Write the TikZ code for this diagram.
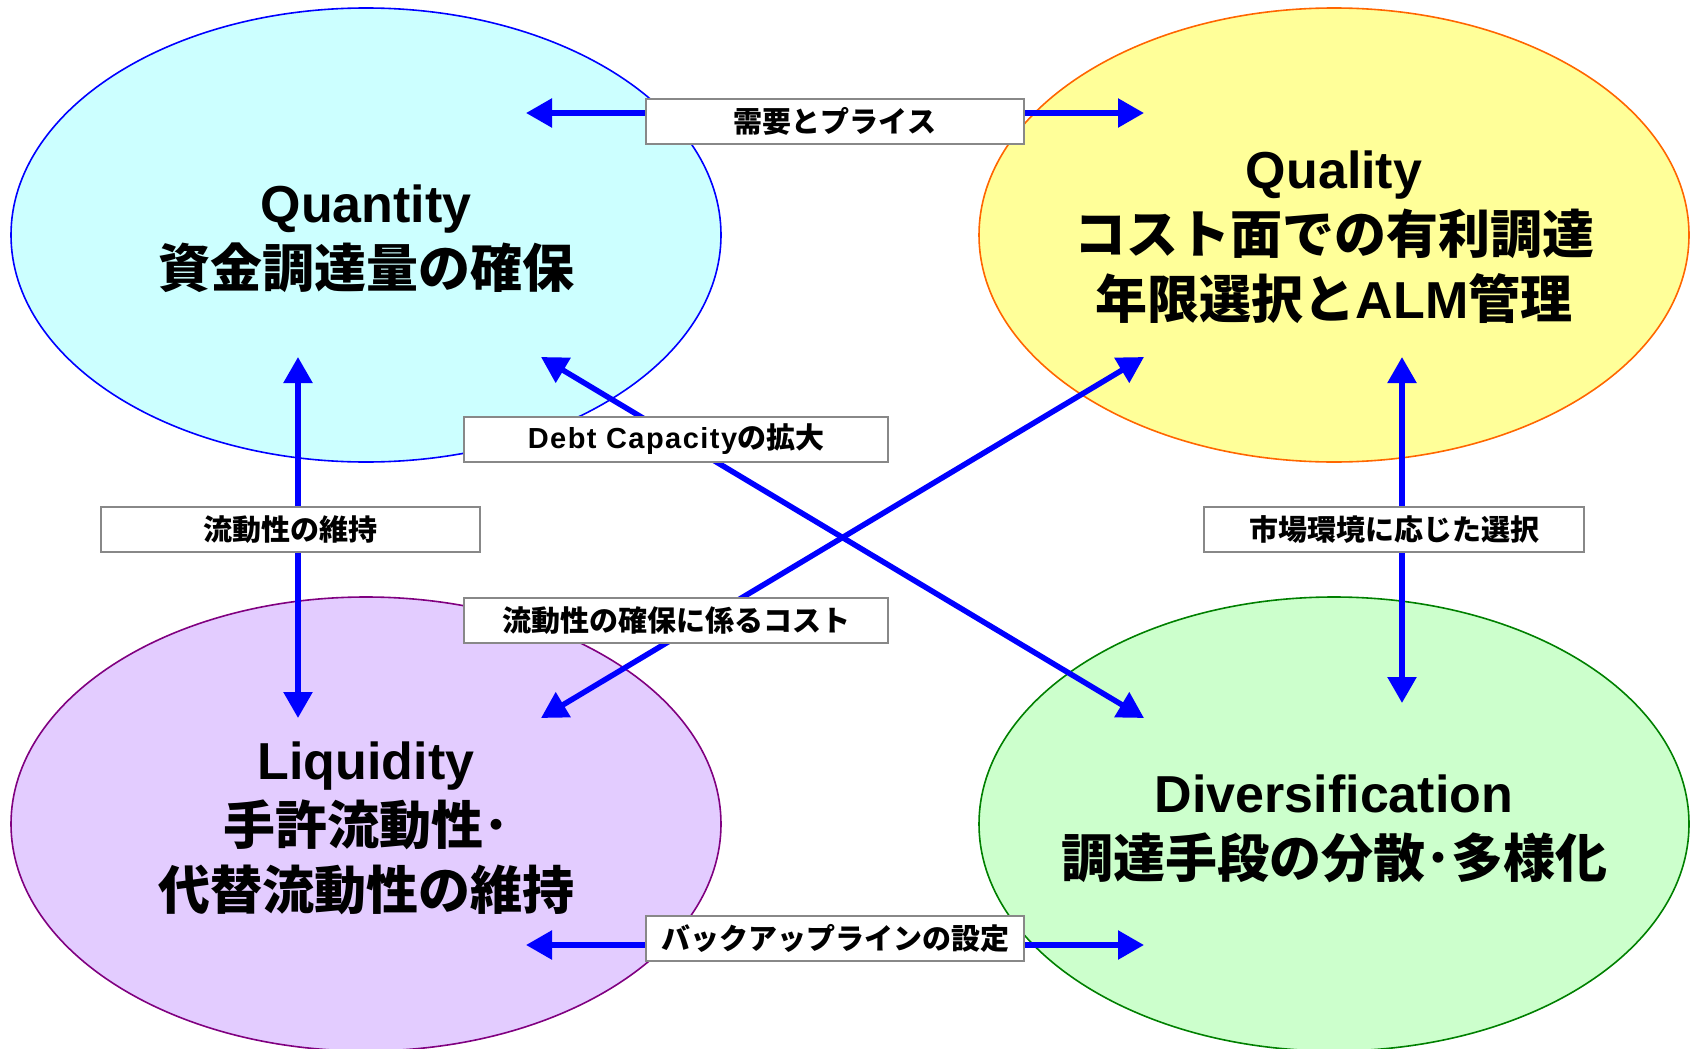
\documentclass[tikz,border=0pt]{standalone}
\usepackage{fontspec}
\setmainfont{Liberation Sans}
\newfontfamily\jp{Noto Sans CJK JP}
\newfontfamily\latsp{Liberation Sans}[LetterSpace=5]
\usetikzlibrary{shapes.geometric,arrows.meta}
\definecolor{qfill}{HTML}{CCFFFF}
\definecolor{qline}{HTML}{0000FF}
\definecolor{qlfill}{HTML}{FFFF99}
\definecolor{qlline}{HTML}{FF6600}
\definecolor{lfill}{HTML}{E3CCFF}
\definecolor{lline}{HTML}{800080}
\definecolor{dfill}{HTML}{CCFFCC}
\definecolor{dline}{HTML}{008000}
\definecolor{boxgray}{HTML}{888888}
\definecolor{arrblue}{HTML}{0000FF}
\begin{document}
\begin{tikzpicture}[x=1pt,y=-1pt,
  bigell/.style={ellipse, draw, line width=1.6pt, minimum width=710pt, minimum height=454pt, inner sep=0pt},
  title/.style={align=center, inner sep=0pt, font=\fontsize{52}{65}\selectfont\bfseries},
  biarr/.style={draw=arrblue, line width=5.5pt, {Triangle[length=26pt,width=28pt]}-{Triangle[length=26pt,width=28pt]}},
  lab/.style={draw=boxgray, line width=2pt, fill=white, inner sep=0pt, minimum height=45pt,
    font=\fontsize{29}{30}\selectfont\bfseries}
]
\useasboundingbox (0,0) rectangle (1697,1049);
% ellipses
\node[bigell, fill=qfill, draw=qline] (qn) at (366,235) {};
\node[bigell, fill=qlfill, draw=qlline] (ql) at (1334,235) {};
\node[bigell, fill=lfill, draw=lline] (lq) at (366,824) {};
\node[bigell, fill=dfill, draw=dline] (dv) at (1334,824) {};
\node[title] (qnt) at (366,239) {Quantity\\{\jp 資金調達量の確保}};
\node[title] (qlt) at (1334,237) {Quality\\{\jp コスト面での有利調達}\\{\jp 年限選択と}ALM{\jp 管理}};
\node[title] (lqt) at (366,828) {Liquidity\\{\jp 手許流動性･}\\{\jp 代替流動性の維持}};
\node[title] (dvt) at (1334,829) {Diversification\\{\jp 調達手段の分散･多様化}};
% arrow end points
\coordinate (tL) at (526,113);
\coordinate (tR) at (1144,113);
\coordinate (bL) at (526,945);
\coordinate (bR) at (1144,945);
\coordinate (lT) at (298,357);
\coordinate (lB) at (298,718);
\coordinate (rT) at (1402,357);
\coordinate (rB) at (1402,703);
\coordinate (d1a) at (541,357);
\coordinate (d1b) at (1144,718);
\coordinate (d2a) at (1144,357);
\coordinate (d2b) at (541,718);
% connectors
\draw[biarr] (tL) -- (tR);
\draw[biarr] (bL) -- (bR);
\draw[biarr] (lT) -- (lB);
\draw[biarr] (rT) -- (rB);
\draw[biarr] (d1a) -- (d1b);
\draw[biarr] (d2a) -- (d2b);
% labels
\node[lab, minimum width=378pt] (l1) at (835,121.5) {\jp 需要とプライス};
\node[lab, minimum width=424pt] (l2) at (676,439) {{\latsp Debt Capacity}{\jp の拡大}};
\node[lab, minimum width=424pt] (l3) at (676,620.5) {\jp 流動性の確保に係るコスト};
\node[lab, minimum width=379pt] (l4) at (290.5,529.5) {\jp 流動性の維持};
\node[lab, minimum width=380pt] (l5) at (1394,529.5) {\jp 市場環境に応じた選択};
\node[lab, minimum width=378pt] (l6) at (835,938) {\jp バックアップラインの設定};
\end{tikzpicture}
\end{document}
